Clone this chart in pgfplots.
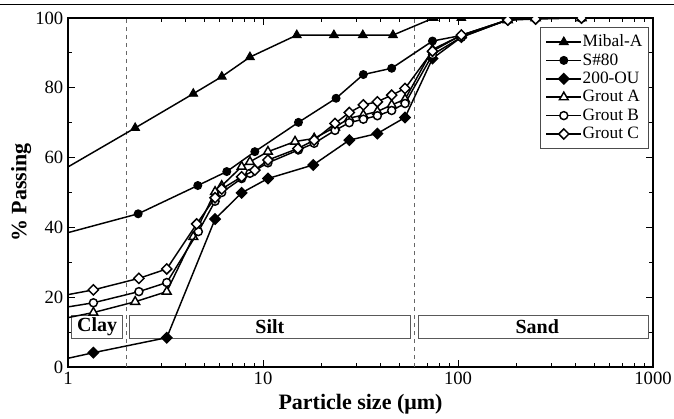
\documentclass[border=0pt]{standalone}
\usepackage{fontspec}
\setmainfont{Liberation Serif}
\usepackage{pgfplots}
\pgfplotsset{compat=1.18}
\begin{document}
\begin{tikzpicture}
\useasboundingbox (-51pt,-38.25pt) rectangle (454.5pt,275.25pt);
\draw[black, line width=0.8pt] (-51pt,271.9pt) -- (454.5pt,271.9pt);
\begin{axis}[
    xmode=log,
    scale only axis,
    width=438.75pt, height=261.75pt,
    xmin=1, xmax=1000, ymin=0, ymax=100,
    clip marker paths=true,
    xtick={1,10,100,1000}, xticklabels={1,10,100,1000},
    minor xtick={2,3,4,5,6,7,8,9,20,30,40,50,60,70,80,90,200,300,400,500,600,700,800,900},
    ytick={0,20,40,60,80,100},
    minor ytick={10,30,50,70,90},
    tick align=inside,
    major tick length=5pt, minor tick length=2.8pt,
    axis line style={line width=0.8pt},
    tick style={line width=0.7pt, black},
    ticklabel style={font=\fontsize{14}{16}\selectfont},
    /pgf/number format/assume math mode=true,
    xlabel={Particle size (μm)},
    ylabel={\% Passing},
    label style={font=\fontsize{16.5}{18}\selectfont\bfseries},
    xlabel style={at={(axis description cs:0.5,-0.108)}, anchor=center},
    ylabel style={at={(axis description cs:-0.08,0.5)}, anchor=center},
    every axis plot/.append style={black, line width=1.1pt, mark options={solid, line width=0.7pt}},
    legend image code/.code={\draw[mark repeat=2,mark phase=2,#1] plot coordinates {(0pt,0pt) (13pt,0pt) (26pt,0pt)};},
    legend style={at={(0.993,0.974)}, anchor=north east, draw=black!70, line width=0.6pt,
        font=\fontsize{13}{14}\selectfont, inner xsep=4pt, inner ysep=4pt, row sep=0pt,
        nodes={inner sep=0.6pt, text height=9.8pt, text depth=2.8pt}},
    legend cell align=left,
]
% soil class boxes and limits
\draw[black!65, line width=0.6pt, fill=white] (axis cs:1.044,8.3) rectangle (axis cs:1.898,14.9);
\draw[black!65, line width=0.6pt, fill=white] (axis cs:2.055,8.3) rectangle (axis cs:57.3,14.9);
\draw[black!65, line width=0.6pt, fill=white] (axis cs:62.6,8.3) rectangle (axis cs:944,14.9);
\node[font=\fontsize{15}{16}\selectfont\bfseries] at (axis cs:1.41,11.6) {Clay};
\node[font=\fontsize{15}{16}\selectfont\bfseries] at (axis cs:10.85,11.6) {Silt};
\node[font=\fontsize{15}{16}\selectfont\bfseries] at (axis cs:255,11.6) {Sand};
\draw[dashed, black!60, line width=0.6pt] (axis cs:2,0) -- (axis cs:2,100);
\draw[dashed, black!60, line width=0.6pt] (axis cs:60,0) -- (axis cs:60,100);

\addplot[mark=triangle*, mark size=3.8pt] coordinates {
 (0.7,52.3) (2.21,68.5) (4.39,78.3) (6.15,83.2) (8.57,88.8) (14.9,95.1) (23.1,95.1)
 (32.5,95.1) (46.4,95.1) (75,100) (104,100) (180,100) (250,100) (430,100)};
\addplot[mark=*, mark size=3pt] coordinates {
 (0.97,38.3) (2.29,43.9) (4.63,52.0) (6.52,56.0) (9.08,61.7) (15.2,70.1) (23.7,77.0)
 (32.7,83.8) (45.7,85.6) (74,93.4) (104,95) (180,99.5) (250,100) (430,100)};
\addplot[mark=square*, mark size=2.7pt, mark options={rotate=45}] coordinates {
 (0.7,0.6) (1.35,4.1) (3.21,8.4) (5.68,42.4) (7.77,49.9) (10.6,54.0) (18.1,57.9)
 (27.7,65.0) (38.6,66.9) (53.5,71.5) (74,88.4) (104,94.5) (180,99.5) (250,100) (430,100)};
\addplot[mark=triangle*, mark size=3.8pt, mark options={fill=white}] coordinates {
 (0.97,14.0) (1.35,15.6) (2.21,18.7) (3.21,21.6) (4.39,37.3) (5.68,50.2) (6.14,51.9)
 (7.77,57.4) (8.57,58.8) (10.6,61.7) (14.6,64.6) (18.3,65.5) (23.4,68.7) (27.7,71.3)
 (32.7,72.2) (38.6,73.2) (45.7,75.1) (53.5,76.7) (74,91.0) (104,95) (180,99.4) (250,100) (430,100)};
\addplot[mark=*, mark size=3pt, mark options={fill=white}] coordinates {
 (0.97,17.1) (1.35,18.4) (2.31,21.6) (3.21,24.2) (4.66,38.8) (5.68,47.5) (6.14,50.0)
 (7.77,54.0) (8.57,55.5) (10.6,58.5) (15.2,62.2) (18.3,64.1) (23.4,67.8) (27.7,70.0)
 (32.7,71.0) (38.6,72.0) (45.7,73.5) (53.5,75.5) (74,89.5) (104,94.5) (180,99.5) (250,100) (430,100)};
\addplot[mark=square*, mark size=2.7pt, mark options={rotate=45, fill=white}] coordinates {
 (0.97,20.6) (1.35,22.1) (2.31,25.4) (3.21,28.1) (4.57,41.0) (5.68,48.5) (6.14,51.0)
 (7.77,54.5) (9.08,56.4) (10.6,59.3) (15.1,62.6) (18.3,65.0) (23.4,69.8) (27.7,72.9)
 (32.7,75.1) (38.6,76.0) (45.7,77.9) (53.5,79.8) (74,90.5) (104,95.1) (180,99.4) (250,99.7) (430,100)};
\legend{Mibal-A, S\#80, 200-OU, Grout A, Grout B, Grout C}
\end{axis}
\end{tikzpicture}
\end{document}
